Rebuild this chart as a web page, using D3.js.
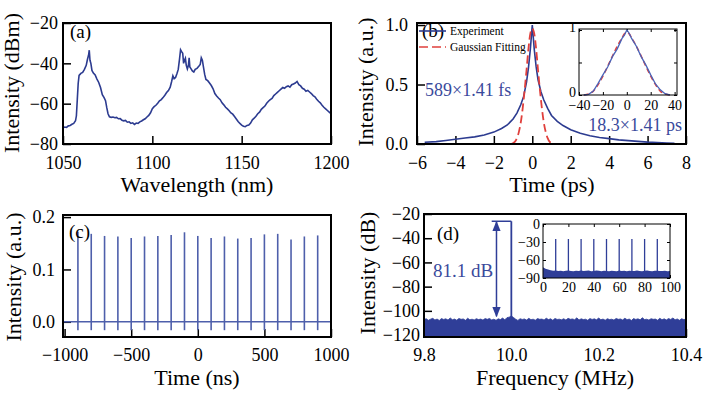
<!DOCTYPE html>
<html>
<head>
<meta charset="utf-8">
<script src="https://cdn.jsdelivr.net/npm/d3@7"></script>
<style>
body { margin: 0; background: #fff; }
svg text { font-family: 'Liberation Serif' !important; }
</style>
</head>
<body>
<div id="chart"></div>
<script>
// ---- data ----
// (a) spectrum
const specWl = [1050,1051,1052,1053,1054,1055,1056,1057,1057.5,1058,1058.5,1059,1060,1061,1062,1063,1063.7,1064.3,1064.7,1065.1,1065.6,1066.2,1067,1068,1069,1070,1071,1072,1073,1073.8,1074.5,1075.2,1076,1077,1078,1079,1080,1081,1082,1083,1084,1085,1086,1087,1088,1089,1090,1091,1092,1093,1094,1095,1096,1097,1098,1099,1100,1101,1102,1103,1104,1105,1106,1107,1108,1109,1110,1110.8,1111.5,1112.2,1113,1113.8,1114.5,1115.2,1115.8,1116.4,1117,1117.5,1118,1118.5,1119,1119.6,1120.2,1120.6,1121,1121.6,1122.4,1123.2,1124,1125,1126,1126.8,1127.4,1128,1128.6,1129.3,1130,1131,1132,1133,1134,1135,1136,1137,1138,1139,1140,1141,1142,1143,1144,1145,1146,1147,1148,1149,1150,1151,1152,1153,1154,1155,1156,1157,1158,1159,1160,1161,1162,1163,1164,1165,1166,1167,1168,1169,1170,1171,1172,1173,1174,1175,1176,1177,1178,1179,1180,1181,1182,1183,1184,1185,1186,1187,1188,1189,1190,1191,1192,1193,1194,1195,1196,1197,1198,1199,1200]
const specDbm = [-72,-71.6,-71.8,-71,-70.8,-70.2,-69.8,-68.5,-66,-58,-50,-46,-45,-44.5,-43,-41,-38,-36,-33.5,-38.5,-40,-43.5,-44.8,-45.8,-47.8,-49.5,-52,-55.5,-57,-58.5,-62,-65,-66.5,-66.8,-66.6,-67,-66.8,-67.5,-67.4,-68.2,-68.5,-68.3,-69.2,-69,-69.8,-69.5,-70.3,-69.6,-69.8,-69,-68.6,-68,-67.5,-66.6,-65.8,-64.5,-62.5,-61.5,-60.8,-59.8,-58.6,-58,-57,-55.8,-54.5,-53.5,-51.8,-49,-46.2,-47.6,-47,-45,-43,-38,-33.3,-34.2,-35,-40,-38.5,-37.5,-41,-42.8,-41,-37.3,-41.8,-42.6,-43.8,-44.3,-43,-42.5,-41.5,-40.6,-37.2,-38.4,-41.8,-45.5,-48,-48.6,-49.8,-51,-52.6,-55,-56.2,-57.2,-58,-59.6,-60.6,-61.8,-62.6,-63.5,-64.6,-65.2,-66.4,-67.6,-68.8,-69.8,-70.6,-71.2,-71.4,-70.8,-70.6,-69.6,-68,-67.2,-66.2,-65,-64.2,-62.8,-62,-61.2,-59.8,-58.8,-58,-57.4,-56,-55.2,-54.4,-53.6,-52.8,-52,-52.4,-51.6,-51.2,-51.8,-50.6,-50.2,-49.8,-49,-50.6,-51.2,-52.4,-52.8,-53.8,-53.4,-54.2,-55,-56,-56.6,-57.8,-58.8,-59.6,-60.8,-61.8,-62.6,-63.4,-64.2,-65]

// (b) autocorrelation
const acT = [-5.6,-5,-4.5,-4,-3.5,-3,-2.5,-2,-1.6,-1.3,-1,-0.8,-0.6,-0.45,-0.3,-0.2,-0.1,0,0.1,0.2,0.3,0.45,0.6,0.8,1,1.3,1.6,2,2.5,3,3.5,4,4.5,5,5.5,6,6.5,7,7.4]
const acExp = [0.015,0.02,0.03,0.04,0.05,0.06,0.075,0.1,0.13,0.16,0.21,0.26,0.33,0.4,0.52,0.64,0.8,1,0.8,0.65,0.54,0.44,0.37,0.3,0.24,0.19,0.155,0.12,0.09,0.07,0.055,0.045,0.035,0.028,0.022,0.016,0.012,0.008,0.006]
const fitT = [-1.1,-0.9,-0.8,-0.7,-0.6,-0.5,-0.4,-0.3,-0.2,-0.1,0,0.1,0.2,0.3,0.4,0.5,0.6,0.7,0.8,0.9,1.1]
const fitVal = [0,0.02,0.05,0.1,0.18,0.3,0.45,0.62,0.8,0.93,0.97,0.93,0.8,0.62,0.45,0.3,0.18,0.1,0.05,0.02,0]
const insT = [-36,-32,-28,-24,-20,-16,-12,-8,-4,-2,0,2,4,8,12,16,20,24,28,32,36]
const insExp = [0,0.01,0.06,0.18,0.31,0.43,0.59,0.71,0.87,0.92,1,0.95,0.87,0.75,0.59,0.46,0.31,0.17,0.08,0.02,0]
const insFit = [0,0.015,0.06,0.16,0.29,0.44,0.6,0.75,0.88,0.94,0.96,0.94,0.88,0.75,0.6,0.44,0.29,0.16,0.06,0.015,0]

// (c) pulse train
const pulseT = [-900,-800,-700,-600,-500,-400,-300,-200,-100,0,100,200,300,400,500,600,700,800,900]
const pulseH = [0.172,0.168,0.164,0.163,0.16,0.163,0.164,0.166,0.171,0.164,0.16,0.163,0.159,0.16,0.167,0.168,0.157,0.163,0.165]
const pulseDip = -0.016

// (d) RF spectrum, noise floor sampled every 5 kHz from 9.8 MHz
const rfNoise = [-107.2,-106.5,-107.8,-106.9,-106.2,-107.5,-106.8,-107.9,-106.4,-107.1,-106.6,-107.6,-105.9,-107.3,-106.8,-107.7,-106.3,-107,-106.7,-107.8,-106.1,-107.4,-106.9,-107.5,-106.5,-107.2,-106.8,-107.6,-106.4,-107,-106.3,-107.5,-106.9,-107.8,-106.6,-107.2,-106,-107.4,-105.6,-105.2,-104.2,-105.5,-106.9,-107.9,-106.5,-107.1,-106.7,-107.6,-106.2,-107.3,-106.9,-107.7,-106.4,-107,-106.8,-107.5,-106.1,-107.2,-106.6,-107.8,-106.3,-107.1,-106.9,-107.4,-106.5,-107.6,-106.2,-107,-106.7,-107.3,-105.8,-107.5,-106.6,-107.2,-106.9,-107.8,-106.4,-107.1,-106.6,-107.4,-106,-107.3,-106.8,-107.7,-106.5,-107.2,-106.9,-107.6,-106.3,-107,-106.7,-107.5,-106.1,-107.3,-106.8,-107.9,-106.4,-107.1,-106.6,-107.4,-105.7,-107.2,-106.9,-107.6,-106.5,-107,-106.8,-107.7,-106.2,-107.3,-106.6,-107.5,-106.4,-107.1,-105.9,-107.4,-106.7,-107.8,-106.5,-107.2,-106.9]
const rfPeakF = 10.0
const rfPeakDb = -26
const rfInsNoise = [-72,-74.5,-76,-77.2,-78,-77.5,-78.4,-77.8,-78.6,-78.1,-77.6,-78.3,-78.8,-77.9,-78.2,-77.4,-78.5,-78,-77.7,-78.6,-78.2,-77.5,-78.1,-78.7,-77.9,-78.3,-78.6,-77.8,-78.2,-78.9,-77.6,-78.4,-78.1,-78.7,-77.9,-78.3,-78.5,-77.7,-78.2,-78.8,-78,-77.6,-78.4,-78.9,-78.1,-77.8,-78.5,-78.2,-77.9,-78.6,-78.3]
const rfInsPeakF = [10,20,30,40,50,60,70,80,90]
const rfInsPeakDb = [-25,-25,-25,-25,-25,-25,-25,-25,-25]

const BLUE = "#2c3b90"
const BLUE2 = "#4e5fab"
const TEXTBLUE = "#3a4a9c"
const RED = "#e0403c"
const FILL = "#2f3e98"
const FONT = "Liberation Serif"

const svg = d3.select("#chart").append("svg")
    .attr("width", 709)
    .attr("height", 397)
    .attr("font-family", FONT)

// builds a plot with inward ticks, returns scales and group
function panel(o) {
    const x = d3.scaleLinear().domain(o.xd).range([o.x0, o.x1])
    const y = d3.scaleLinear().domain(o.yd).range([o.y1, o.y0])
    const g = svg.append("g")
    const fs = o.fs || 18
    const tk = o.tick || 8

    g.append("g")
        .attr("transform", "translate(0," + o.y1 + ")")
        .call(d3.axisBottom(x).tickValues(o.xt).tickSize(-tk).tickPadding(o.xpad || 12).tickSizeOuter(0).tickFormat(o.xf || d3.format("")))
    const ya = g.append("g")
        .attr("transform", "translate(" + o.x0 + ",0)")
        .call(d3.axisLeft(y).tickValues(o.yt).tickSize(-tk).tickPadding(o.ypad || 5).tickSizeOuter(0).tickFormat(o.yf || d3.format("")))
    if (o.ydy) ya.selectAll("text").attr("dy", o.ydy)
    if (o.mirror) {
        g.append("g").attr("transform", "translate(" + o.x1 + ",0)")
            .call(d3.axisRight(y).tickValues(o.yt).tickSize(-tk).tickFormat(""))
        g.append("g").attr("transform", "translate(0," + o.y0 + ")")
            .call(d3.axisTop(x).tickValues(o.xt).tickSize(-tk).tickFormat(""))
    }
    g.selectAll("g").attr("font-family", FONT)
    g.selectAll(".domain").remove()
    g.selectAll(".tick line").attr("stroke", "#000").attr("stroke-width", o.tw || 1.5)
    g.selectAll(".tick text").style("font-size", fs + "px").attr("fill", "#000")

    return { x, y, g }
}

function frame(g, o, w) {
    g.append("rect")
        .attr("x", o.x0).attr("y", o.y0)
        .attr("width", o.x1 - o.x0).attr("height", o.y1 - o.y0)
        .attr("fill", "none").attr("stroke", "#000").attr("stroke-width", w)
}

function label(txt, x, y, size, rot, anchor, color) {
    return svg.append("text")
        .attr("transform", "translate(" + x + "," + y + ")" + (rot ? " rotate(-90)" : ""))
        .attr("text-anchor", anchor || "middle")
        .style("font-size", size + "px")
        .attr("fill", color || "#000")
        .text(txt)
}

// ---------- (a) ----------
const oa = { x0: 63, x1: 331, y0: 23, y1: 144, xd: [1050, 1200], yd: [-80, -20],
    xt: [1050, 1100, 1150, 1200], yt: [-80, -60, -40, -20] }
const pa = panel(oa)
pa.g.append("path")
    .attr("d", d3.line().x((d, i) => pa.x(specWl[i])).y(d => pa.y(d))(specDbm))
    .attr("fill", "none").attr("stroke", BLUE).attr("stroke-width", 1.6)
frame(pa.g, oa, 2)
label("(a)", 70, 38, 19, false, "start")
label("Intensity (dBm)", 19, 83, 22, true)
label("Wavelength (nm)", 197, 192, 22, false)

// ---------- (b) ----------
const ob = { x0: 417, x1: 686, y0: 23, y1: 144, xd: [-6, 8], yd: [0, 1.017],
    xt: [-6, -4, -2, 0, 2, 4, 6, 8], yt: [0, 0.5, 1.0], yf: d3.format(".1f"), ypad: 9 }
const pb = panel(ob)
label("(b)", 422, 37, 19, false, "start")
pb.g.append("path")
    .attr("d", d3.line().x((d, i) => pb.x(acT[i])).y(d => pb.y(d))(acExp))
    .attr("fill", "none").attr("stroke", BLUE).attr("stroke-width", 1.6)
pb.g.append("path")
    .attr("d", d3.line().x((d, i) => pb.x(fitT[i])).y(d => pb.y(d)).curve(d3.curveMonotoneX)(fitVal))
    .attr("fill", "none").attr("stroke", RED).attr("stroke-width", 1.8)
    .attr("stroke-dasharray", "8,4")
frame(pb.g, ob, 2)

// legend
const leg = [{ name: "Experiment", col: BLUE, dash: null, y: 31 },
             { name: "Gaussian Fitting", col: RED, dash: "9,4", y: 47 }]
leg.forEach(l => {
    svg.append("line").attr("x1", 419).attr("x2", 446).attr("y1", l.y).attr("y2", l.y)
        .attr("stroke", l.col).attr("stroke-width", 1.6).attr("stroke-dasharray", l.dash)
    label(l.name, 450, l.y + 4, 11.5, false, "start")
})
label("589×1.41 fs", 425, 96, 18, false, "start", TEXTBLUE)
label("18.3×1.41 ps", 682, 131, 18, false, "end", TEXTBLUE)
label("Intensity (a.u.)", 373, 82, 22, true)
label("Time (ps)", 552, 192, 22, false)

// inset (b)
const obi = { x0: 579, x1: 677, y0: 29, y1: 95, xd: [-40, 42], yd: [0, 1.015],
    xt: [-40, -20, 0, 20, 40], yt: [0, 0.5, 1], yf: d => (d === 0.5 ? "" : d),
    fs: 14, tick: 3, tw: 1, xpad: 5, ypad: 3, ydy: "0.1em", mirror: true }
svg.append("rect").attr("x", obi.x0).attr("y", obi.y0).attr("width", obi.x1 - obi.x0)
    .attr("height", obi.y1 - obi.y0).attr("fill", "#fff")
const pbi = panel(obi)
pbi.g.append("path")
    .attr("d", d3.line().x((d, i) => pbi.x(insT[i])).y(d => pbi.y(d)).curve(d3.curveMonotoneX)(insFit))
    .attr("fill", "none").attr("stroke", RED).attr("stroke-width", 1.5).attr("stroke-dasharray", "5,3")
pbi.g.append("path")
    .attr("d", d3.line().x((d, i) => pbi.x(insT[i])).y(d => pbi.y(d))(insExp))
    .attr("fill", "none").attr("stroke", "#4a63b8").attr("stroke-width", 1.3)
frame(pbi.g, obi, 1)

// ---------- (c) ----------
const oc = { x0: 63, x1: 331, y0: 215, y1: 337, xd: [-1012, 1000], yd: [-0.029, 0.204],
    xt: [-1000, -500, 0, 500, 1000], yt: [0, 0.1, 0.2], yf: d3.format(".1f"), xpad: 11, ypad: 8 }
const pc = panel(oc)
pc.g.append("line")
    .attr("x1", oc.x0).attr("x2", oc.x1).attr("y1", pc.y(0)).attr("y2", pc.y(0))
    .attr("stroke", BLUE2).attr("stroke-width", 1.5)
pc.g.selectAll(".pulse")
    .data(pulseT)
    .enter()
    .append("line")
    .attr("class", "pulse")
    .attr("x1", d => pc.x(d)).attr("x2", d => pc.x(d))
    .attr("y1", pc.y(pulseDip)).attr("y2", (d, i) => pc.y(pulseH[i]))
    .attr("stroke", BLUE2).attr("stroke-width", 1.6)
frame(pc.g, oc, 2)
label("(c)", 69, 238, 19, false, "start")
label("Intensity (a.u.)", 21, 277, 22, true)
label("Time (ns)", 197, 385, 22, false)

// ---------- (d) ----------
const od = { x0: 424, x1: 686, y0: 214, y1: 337, xd: [9.8, 10.4], yd: [-121.6, -20],
    xt: [9.8, 10.0, 10.2, 10.4], yt: [-120, -100, -80, -60, -40, -20], xf: d3.format(".1f"), xpad: 11, ypad: 4 }
const pd = panel(od)
const rfF = rfNoise.map((d, i) => 9.8 + i * 0.005)
pd.g.append("path")
    .attr("d", d3.area().x((d, i) => pd.x(rfF[i])).y0(pd.y(-121.6)).y1(d => pd.y(d))(rfNoise))
    .attr("fill", FILL).attr("stroke", FILL).attr("stroke-width", 0.8)
pd.g.append("line")
    .attr("x1", pd.x(rfPeakF)).attr("x2", pd.x(rfPeakF))
    .attr("y1", pd.y(-106)).attr("y2", pd.y(rfPeakDb))
    .attr("stroke", FILL).attr("stroke-width", 1.8)
frame(pd.g, od, 2)

// arrow annotation
const defs = svg.append("defs")
defs.append("marker").attr("id", "ah").attr("viewBox", "0 0 10 10")
    .attr("refX", 9).attr("refY", 5).attr("markerWidth", 7).attr("markerHeight", 7)
    .attr("orient", "auto-start-reverse")
    .append("path").attr("d", "M0,1 L10,5 L0,9 Z").attr("fill", FILL)
pd.g.append("line")
    .attr("x1", pd.x(9.955)).attr("x2", pd.x(10.0))
    .attr("y1", pd.y(rfPeakDb)).attr("y2", pd.y(rfPeakDb))
    .attr("stroke", FILL).attr("stroke-width", 1.5)
pd.g.append("line")
    .attr("x1", pd.x(9.966)).attr("x2", pd.x(9.966))
    .attr("y1", pd.y(-26.5)).attr("y2", pd.y(-104.5))
    .attr("stroke", FILL).attr("stroke-width", 1.5)
    .attr("marker-start", "url(#ah)").attr("marker-end", "url(#ah)")
label("(d)", 437, 240, 19, false, "start")
label("81.1 dB", 433, 277, 19, false, "start", TEXTBLUE)
label("Intensity (dB)", 375, 273, 22, true)
label("Frequency (MHz)", 555, 385, 22, false)

// inset (d)
const odi = { x0: 543, x1: 670, y0: 224, y1: 278, xd: [0, 100], yd: [-90, 0],
    xt: [0, 20, 40, 60, 80, 100], yt: [-90, -60, -30, 0],
    fs: 14, tick: 3, tw: 1, xpad: 4, ypad: 3, mirror: true }
svg.append("rect").attr("x", odi.x0).attr("y", odi.y0).attr("width", odi.x1 - odi.x0)
    .attr("height", odi.y1 - odi.y0).attr("fill", "#fff")
const pdi = panel(odi)
const rfInsF = rfInsNoise.map((d, i) => i * 2)
pdi.g.append("path")
    .attr("d", d3.area().x((d, i) => pdi.x(rfInsF[i])).y0(pdi.y(-90)).y1(d => pdi.y(d))(rfInsNoise))
    .attr("fill", FILL)
pdi.g.selectAll(".spk")
    .data(rfInsPeakF)
    .enter()
    .append("line")
    .attr("x1", d => pdi.x(d)).attr("x2", d => pdi.x(d))
    .attr("y1", pdi.y(-80)).attr("y2", (d, i) => pdi.y(rfInsPeakDb[i]))
    .attr("stroke", FILL).attr("stroke-width", 1.3)
frame(pdi.g, odi, 1)

// serif everywhere (axis groups set sans-serif by default)
svg.selectAll("text").attr("font-family", FONT).style("font-family", "'" + FONT + "'")
</script>
</body>
</html>
